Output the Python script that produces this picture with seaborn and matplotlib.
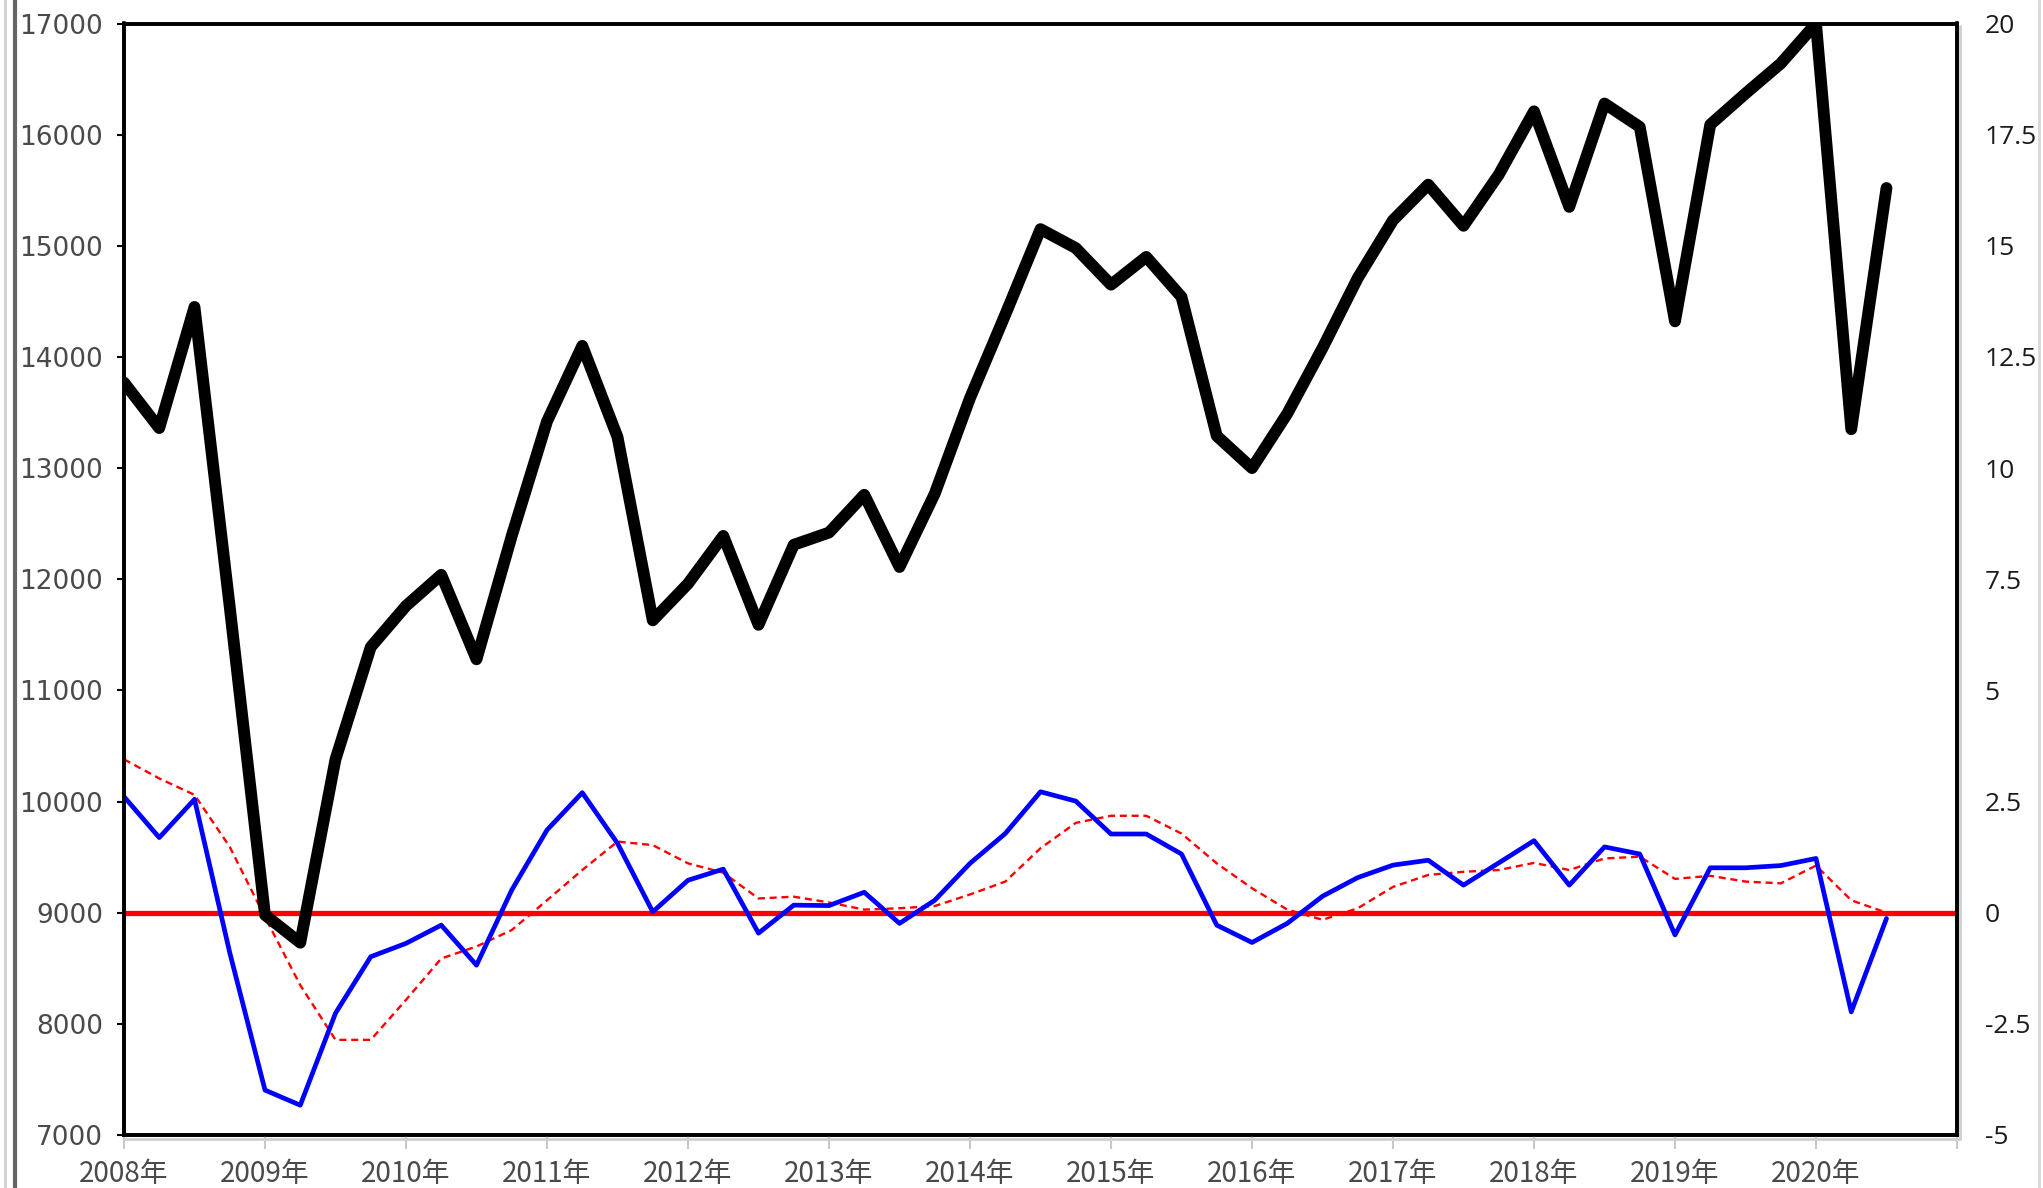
"""
Quarterly level (left axis) vs. growth gap and its moving average (right axis)
"""
import numpy as np
import pandas as pd

import matplotlib
matplotlib.use('Agg')
import matplotlib.pyplot as plt
from matplotlib.lines import Line2D
import seaborn as sns

# ---- data (2008Q1 .. 2020Q3) ----
level = [13770, 13360, 14450, 11750, 8980, 8730, 10380, 11390, 11760, 12040,
         11280, 12390, 13420, 14100, 13280, 11630, 11960, 12390, 11590, 12310,
         12420, 12760, 12110, 12770, 13630, 14380, 15150, 14980, 14650, 14900,
         14540, 13290, 13000, 13490, 14080, 14710, 15230, 15550, 15180, 15640,
         16210, 15350, 16280, 16070, 14320, 16090, 16370, 16640, 17000, 13350,
         15520]
gap = [2.61, 1.69, 2.55, -0.90, -3.99, -4.33, -2.26, -0.99, -0.69, -0.28,
       -1.18, 0.51, 1.86, 2.70, 1.56, 0.02, 0.73, 0.98, -0.46, 0.17,
       0.16, 0.46, -0.24, 0.28, 1.11, 1.78, 2.72, 2.51, 1.77, 1.77,
       1.32, -0.28, -0.67, -0.24, 0.37, 0.79, 1.07, 1.18, 0.62, 1.12,
       1.62, 0.62, 1.48, 1.32, -0.50, 1.01, 1.01, 1.06, 1.22, -2.23,
       -0.13]
gap_ma = [3.45, 3.02, 2.65, 1.48, -0.10, -1.63, -2.86, -2.86, -1.96, -1.03,
          -0.76, -0.39, 0.28, 0.96, 1.60, 1.52, 1.11, 0.90, 0.32, 0.36,
          0.23, 0.07, 0.10, 0.15, 0.41, 0.70, 1.45, 2.02, 2.18, 2.18,
          1.78, 1.11, 0.55, 0.07, -0.16, 0.10, 0.58, 0.85, 0.92, 0.96,
          1.12, 0.96, 1.22, 1.26, 0.76, 0.83, 0.70, 0.66, 1.06, 0.28,
          0.00]
year_labels = ['2008年', '2009年', '2010年', '2011年', '2012年', '2013年', '2014年',
               '2015年', '2016年', '2017年', '2018年', '2019年', '2020年', '']
left_ticks = [7000, 8000, 9000, 10000, 11000, 12000, 13000, 14000, 15000, 16000, 17000]
right_ticks = [-5, -2.5, 0, 2.5, 5, 7.5, 10, 12.5, 15, 17.5, 20]
right_labels = ['-5', '-2.5', '0', '2.5', '5', '7.5', '10', '12.5', '15', '17.5', '20']

df = pd.DataFrame({'q': np.arange(len(level)), 'level': level,
                   'gap': gap, 'gap_ma': gap_ma})

sns.set_style('white')
plt.rcParams['font.family'] = ['Noto Sans CJK SC', 'DejaVu Sans']

W, H = 2043, 1188
fig = plt.figure(figsize=(W / 100, H / 100), dpi=100)
x0, x1, y_top, y_bot = 124, 1957, 23.5, 1135
ax = fig.add_axes([x0 / W, 1 - y_bot / H, (x1 - x0) / W, (y_bot - y_top) / H])
ax2 = ax.twinx()

# right-axis series
ax2.axhline(0, color='#ff0000', lw=3.8, zorder=2)
sns.lineplot(data=df, x='q', y='gap_ma', ax=ax2, color='#ff0000', lw=1.7,
             dashes=False, linestyle=(0, (3, 2)), zorder=3)
sns.lineplot(data=df, x='q', y='gap', ax=ax2, color='#0000ff', lw=3.4, zorder=4)

# left-axis series, drawn on top
sns.lineplot(data=df, x='q', y='level', ax=ax, color='black', lw=8.5, zorder=5)
ax.set_zorder(ax2.get_zorder() + 1)
ax.patch.set_visible(False)

ax.set_xlim(0, 52)
ax.set_ylim(7000, 17000)
ax2.set_ylim(-5, 20)

ax.set_xticks(np.arange(0, 53, 4))
ax.set_xticklabels(year_labels)
ax.set_yticks(left_ticks)
ax.set_yticklabels([str(v) for v in left_ticks],
                   family=['Liberation Sans Narrow', 'DejaVu Sans'])
ax2.set_yticks(right_ticks)
ax2.set_yticklabels(right_labels, family=['Open Sans', 'DejaVu Sans'])

ax.set_xlabel('')
ax.set_ylabel('')
ax2.set_ylabel('')

ax.tick_params(axis='y', direction='out', length=5, width=1.5, color='black',
               labelcolor='#4a4a4a', labelsize=19, pad=10, left=True)
ax.tick_params(axis='x', direction='out', length=10, width=1.5, color='#c8c8c8',
               labelcolor='#4a4a4a', labelsize=20, pad=7, bottom=True)
ax2.tick_params(axis='y', length=0, labelcolor='#1a1a1a', labelsize=19, pad=20)

for a in (ax, ax2):
    for s in a.spines.values():
        s.set_color('black')
        s.set_linewidth(2.6)
        s.set_visible(True)

# soft shadow under the bottom spine and window borders of the screenshot
fig.add_artist(Line2D([x0 / W, (x1 + 2) / W], [1 - 1139 / H] * 2,
                      color='#cfcfcf', lw=2))
fig.add_artist(Line2D([(x1 + 3) / W] * 2, [1 - 1139 / H, 1 - 26 / H],
                      color='#cfcfcf', lw=2))
fig.add_artist(Line2D([5 / W] * 2, [0, 1], color='#d0d0d0', lw=2))
fig.add_artist(Line2D([15 / W] * 2, [0, 1], color='#666666', lw=3))
fig.add_artist(Line2D([2039 / W] * 2, [0, 1], color='#d8d8d8', lw=2))

fig.savefig('out.png', dpi=100)
plt.close(fig)
